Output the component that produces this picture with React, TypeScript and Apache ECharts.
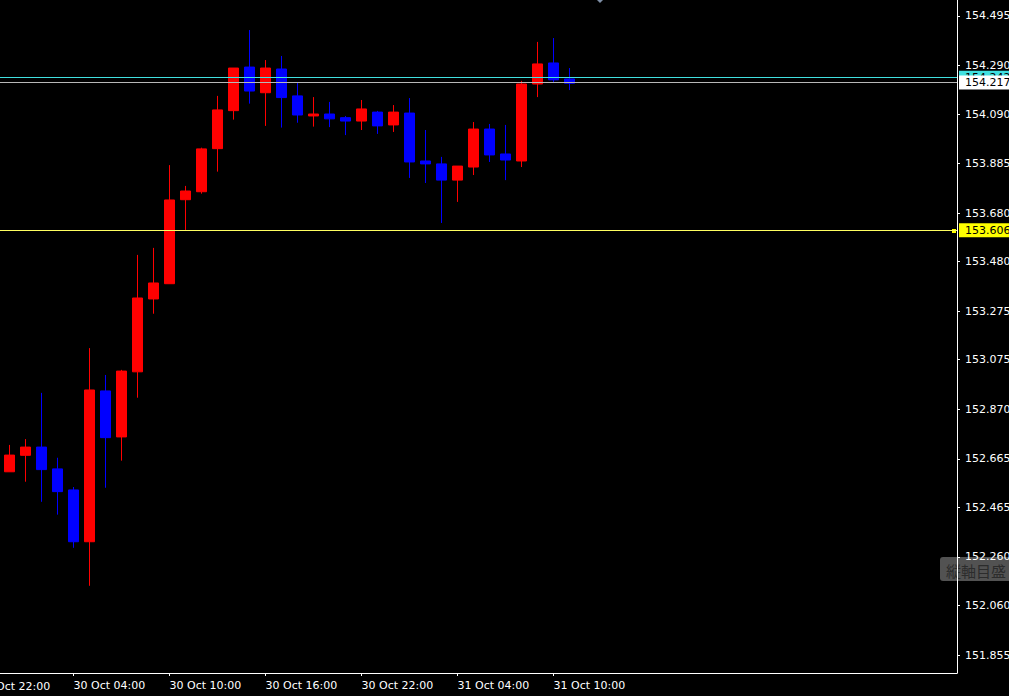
import React, { useEffect, useRef } from 'react';
import * as echarts from 'echarts';

const candleTimes = [
  '2024-10-30T00:00:00Z', '2024-10-30T01:00:00Z', '2024-10-30T02:00:00Z', '2024-10-30T03:00:00Z',
  '2024-10-30T04:00:00Z', '2024-10-30T05:00:00Z', '2024-10-30T06:00:00Z', '2024-10-30T07:00:00Z',
  '2024-10-30T08:00:00Z', '2024-10-30T09:00:00Z', '2024-10-30T10:00:00Z', '2024-10-30T11:00:00Z',
  '2024-10-30T12:00:00Z', '2024-10-30T13:00:00Z', '2024-10-30T14:00:00Z', '2024-10-30T15:00:00Z',
  '2024-10-30T16:00:00Z', '2024-10-30T17:00:00Z', '2024-10-30T18:00:00Z', '2024-10-30T19:00:00Z',
  '2024-10-30T20:00:00Z', '2024-10-30T21:00:00Z', '2024-10-30T22:00:00Z', '2024-10-30T23:00:00Z',
  '2024-10-31T00:00:00Z', '2024-10-31T01:00:00Z', '2024-10-31T02:00:00Z', '2024-10-31T03:00:00Z',
  '2024-10-31T04:00:00Z', '2024-10-31T05:00:00Z', '2024-10-31T06:00:00Z', '2024-10-31T07:00:00Z',
  '2024-10-31T08:00:00Z', '2024-10-31T09:00:00Z', '2024-10-31T10:00:00Z', '2024-10-31T11:00:00Z',
];

const opens = [
  152.612, 152.680, 152.714, 152.624, 152.537, 152.323, 152.946, 152.756, 153.025, 153.326,
  153.389, 153.736, 153.769, 153.947, 154.104, 154.284, 154.178, 154.276, 154.165, 154.082,
  154.090, 154.075, 154.061, 154.098, 154.045, 154.094, 153.896, 153.884, 153.817, 153.871,
  154.028, 153.925, 153.896, 154.214, 154.301, 154.235,
];
const closes = [
  152.681, 152.714, 152.621, 152.530, 152.323, 152.950, 152.753, 153.028, 153.330, 153.392,
  153.735, 153.772, 153.946, 154.107, 154.280, 154.185, 154.280, 154.158, 154.086, 154.090,
  154.070, 154.061, 154.111, 154.041, 154.098, 153.892, 153.884, 153.817, 153.875, 154.028,
  153.921, 153.900, 154.214, 154.297, 154.231, 154.217,
];
const lows = [
  152.612, 152.571, 152.488, 152.435, 152.298, 152.141, 152.546, 152.658, 152.918, 153.265,
  153.389, 153.611, 153.761, 153.852, 154.067, 154.133, 154.041, 154.034, 154.054, 154.038,
  154.036, 154.003, 154.024, 154.008, 154.016, 153.826, 153.805, 153.640, 153.727, 153.838,
  153.892, 153.817, 153.871, 154.160, 154.218, 154.189,
];
const highs = [
  152.723, 152.747, 152.938, 152.670, 152.549, 153.123, 153.012, 153.033, 153.508, 153.537,
  153.879, 153.793, 153.951, 154.165, 154.280, 154.437, 154.313, 154.330, 154.218, 154.160,
  154.140, 154.082, 154.148, 154.103, 154.127, 154.156, 154.024, 153.913, 153.875, 154.057,
  154.049, 154.045, 154.227, 154.388, 154.404, 154.280,
];

const priceTickLabels = [
  '154.495', '154.290', '154.090', '153.885', '153.680', '153.480', '153.275',
  '153.075', '152.870', '152.665', '152.465', '152.260', '152.060', '151.855',
];

const timeTickValues = [
  '2024-10-29T22:00:00Z', '2024-10-30T04:00:00Z', '2024-10-30T10:00:00Z', '2024-10-30T16:00:00Z',
  '2024-10-30T22:00:00Z', '2024-10-31T04:00:00Z', '2024-10-31T10:00:00Z',
];
const timeTickLabels = [
  '29 Oct 22:00', '30 Oct 04:00', '30 Oct 10:00', '30 Oct 16:00',
  '30 Oct 22:00', '31 Oct 04:00', '31 Oct 10:00',
];

const askPrice = 154.242;
const bidPrice = 154.217;
const levelPrice = 153.606;
const scaleButtonText = '縦軸目盛';

export default function App() {
  const ref = useRef<HTMLDivElement>(null);

  useEffect(() => {
    const el = ref.current;
    if (!el) return;
    const chart = echarts.init(el, null, { renderer: 'svg' });
    const H = 3600 * 1000;
    const t0 = Date.parse(candleTimes[0]);
    const toHour = (s: string) => (Date.parse(s) - t0) / H;
    const xMin = -0.59375;
    const xMax = 59.21875;
    const data = candleTimes.map((t, i) => [toHour(t), opens[i], closes[i], lows[i], highs[i]]);
    const tickHours = timeTickValues.map(toHour);
    const inRange = tickHours.filter((t) => t >= xMin && t <= xMax);
    const priceVals = priceTickLabels.map((s) => Number(s));
    const font = 'DejaVu Sans';

    chart.setOption({
      animation: false,
      backgroundColor: '#000000',
      grid: { left: 0, right: 52, top: 0, bottom: 23, containLabel: false, outerBoundsMode: 'none' },
      xAxis: {
        type: 'value',
        min: xMin,
        max: xMax,
        axisLine: { show: true, onZero: false, lineStyle: { color: '#ffffff', width: 1 } },
        axisTick: { show: true, customValues: inRange, length: 3, lineStyle: { color: '#ffffff' } },
        axisLabel: {
          customValues: inRange,
          formatter: (v: number) => {
            const i = tickHours.findIndex((h) => Math.abs(h - v) < 1e-6);
            return i >= 0 ? timeTickLabels[i] : '';
          },
          color: '#ffffff',
          fontFamily: font,
          fontSize: 11,
          align: 'left',
          margin: 7,
        },
        splitLine: { show: false },
      },
      yAxis: {
        type: 'value',
        position: 'right',
        min: 151.7807,
        max: 154.5611,
        axisLine: { show: true, onZero: false, lineStyle: { color: '#ffffff', width: 1 } },
        axisTick: { show: true, customValues: priceVals, length: 3, lineStyle: { color: '#ffffff' } },
        axisLabel: {
          customValues: priceVals,
          formatter: (v: number) => v.toFixed(3),
          color: '#ffffff',
          fontFamily: font,
          fontSize: 11,
          margin: 8,
        },
        splitLine: { show: false },
      },
      series: [
        {
          type: 'candlestick',
          data,
          barWidth: 10,
          itemStyle: {
            color: '#ff0000',
            color0: '#0000ff',
            borderColor: '#ff0000',
            borderColor0: '#0000ff',
            borderWidth: 1,
          },
          markLine: {
            silent: true,
            symbol: ['none', 'none'],
            lineStyle: { type: 'solid', width: 1 },
            label: {
              show: true,
              position: 'end',
              distance: 2,
              color: '#000000',
              fontFamily: font,
              fontSize: 11,
              lineHeight: 12,
              padding: [1, 8, 1, 6],
            },
            data: [
              {
                yAxis: askPrice,
                lineStyle: { color: '#40e0e0' },
                label: { backgroundColor: '#40e0e0', formatter: askPrice.toFixed(3) },
              },
              {
                yAxis: bidPrice,
                lineStyle: { color: '#b8b8b8' },
                label: { backgroundColor: '#ffffff', formatter: bidPrice.toFixed(3) },
              },
              {
                yAxis: levelPrice,
                lineStyle: { color: '#ffff60' },
                label: { backgroundColor: '#ffff00', formatter: levelPrice.toFixed(3) },
              },
            ],
          },
        },
      ],
    });

    const outLabels: any[] = [];
    tickHours.forEach((h, i) => {
      if (h < xMin || h > xMax) {
        const px = chart.convertToPixel({ xAxisIndex: 0 }, h) as number;
        outLabels.push({
          type: 'text',
          x: px + 1,
          y: 681,
          style: { text: timeTickLabels[i], fill: '#ffffff', font: `11px "${font}"`, textAlign: 'left', textVerticalAlign: 'top' },
        });
      }
    });
    const levelPx = chart.convertToPixel({ yAxisIndex: 0 }, levelPrice) as number;

    chart.setOption({
      graphic: [
        ...outLabels,
        {
          type: 'rect',
          shape: { x: 952, y: Math.round(levelPx) - 2, width: 4, height: 4 },
          style: { fill: '#ffff00' },
        },
        {
          type: 'polygon',
          shape: { points: [[597, 0], [603, 0], [600, 3]] },
          style: { fill: '#7f8fa6' },
        },
        {
          type: 'group',
          x: 940,
          y: 557,
          z: 100,
          children: [
            { type: 'rect', shape: { x: 0, y: 0, width: 80, height: 24, r: 3 }, style: { fill: 'rgba(96,96,96,0.85)' } },
            {
              type: 'text',
              x: 6,
              y: 13,
              style: {
                text: scaleButtonText,
                fill: '#2c2c2c',
                font: '15px "Noto Sans CJK JP"',
                textAlign: 'left',
                textVerticalAlign: 'middle',
              },
            },
          ],
        },
      ],
    });

    return () => {
      chart.dispose();
    };
  }, []);

  return (
    <div
      ref={ref}
      style={{ position: 'fixed', left: 0, top: 0, width: 1009, height: 696, background: '#000000' }}
    />
  );
}
